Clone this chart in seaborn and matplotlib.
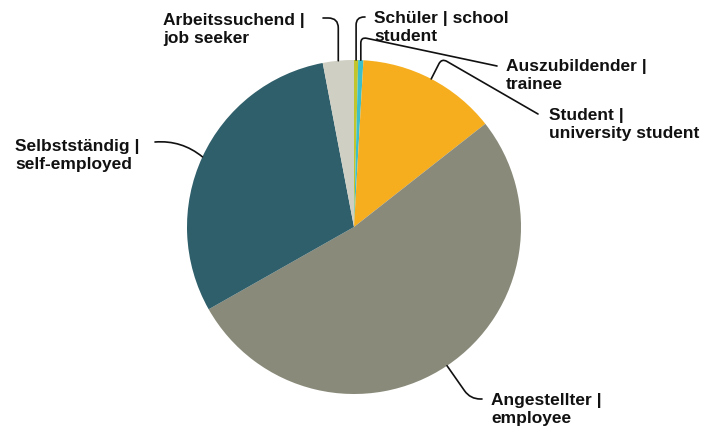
import numpy as np
import matplotlib
matplotlib.use("Agg")
import matplotlib.pyplot as plt
import seaborn as sns

labels = ["Schüler | school\nstudent", "Auszubildender |\ntrainee",
          "Student |\nuniversity student", "Angestellter |\nemployee",
          "Selbstständig |\nself-employed", "Arbeitssuchend |\njob seeker"]
values = [0.4, 0.5, 13.5, 52.4, 30.2, 3.0]
colors = ["#c3c52c", "#3cbfc9", "#f6ae1f", "#898a79", "#2f5f6b", "#d0cfc3"]

sns.set_theme(style="white")
plt.rcParams['font.family'] = ['Liberation Sans', 'DejaVu Sans']

W, H = 714, 432
CX, CY, R = 354, 227, 167
fig = plt.figure(figsize=(W / 100, H / 100), dpi=100)
ax = fig.add_axes([0, 0, 1, 1])
ax.axis("off")

def P(px, py):
    return ((px - CX) / R, (CY - py) / R)

wedges, _ = ax.pie(values, colors=colors, startangle=90, counterclock=False,
                   radius=1, center=(0, 0), wedgeprops=dict(linewidth=0),
                   frame=False)
ax.set_xlim((0 - CX) / R, (W - CX) / R)
ax.set_ylim((CY - H) / R, (CY - 0) / R)
ax.set_aspect("auto")

# text anchor (left x, last-line baseline y) in pixels, line end in pixels, connection style
specs = [
    ((374, 41), (365, 17), "angle,angleA=0,angleB=90,rad=8"),
    ((506, 89), (497, 66), "angle,angleA=-12,angleB=90,rad=6"),
    ((549, 138), (538, 114), "angle,angleA=-30,angleB=63,rad=6"),
    ((491, 423), (482, 399), "angle,angleA=0,angleB=-55,rad=10"),
    ((15, 169), (155, 142), "arc3,rad=-0.2"),
    ((163, 43), (323, 18), "angle,angleA=0,angleB=90,rad=10"),
]

for w, lab, (tpos, lpos, cs) in zip(wedges, labels, specs):
    mid = np.deg2rad((w.theta1 + w.theta2) / 2)
    edge = (np.cos(mid), np.sin(mid))
    ax.text(*P(*tpos), lab, ha="left", va="baseline", fontsize=12.5,
            fontweight="bold", color="#111111", linespacing=1.27)
    ax.annotate("", xy=edge, xytext=P(*lpos),
                arrowprops=dict(arrowstyle="-", color="#111111", lw=1.2,
                                shrinkA=0, shrinkB=0, connectionstyle=cs))

fig.savefig("out.png", dpi=100)
